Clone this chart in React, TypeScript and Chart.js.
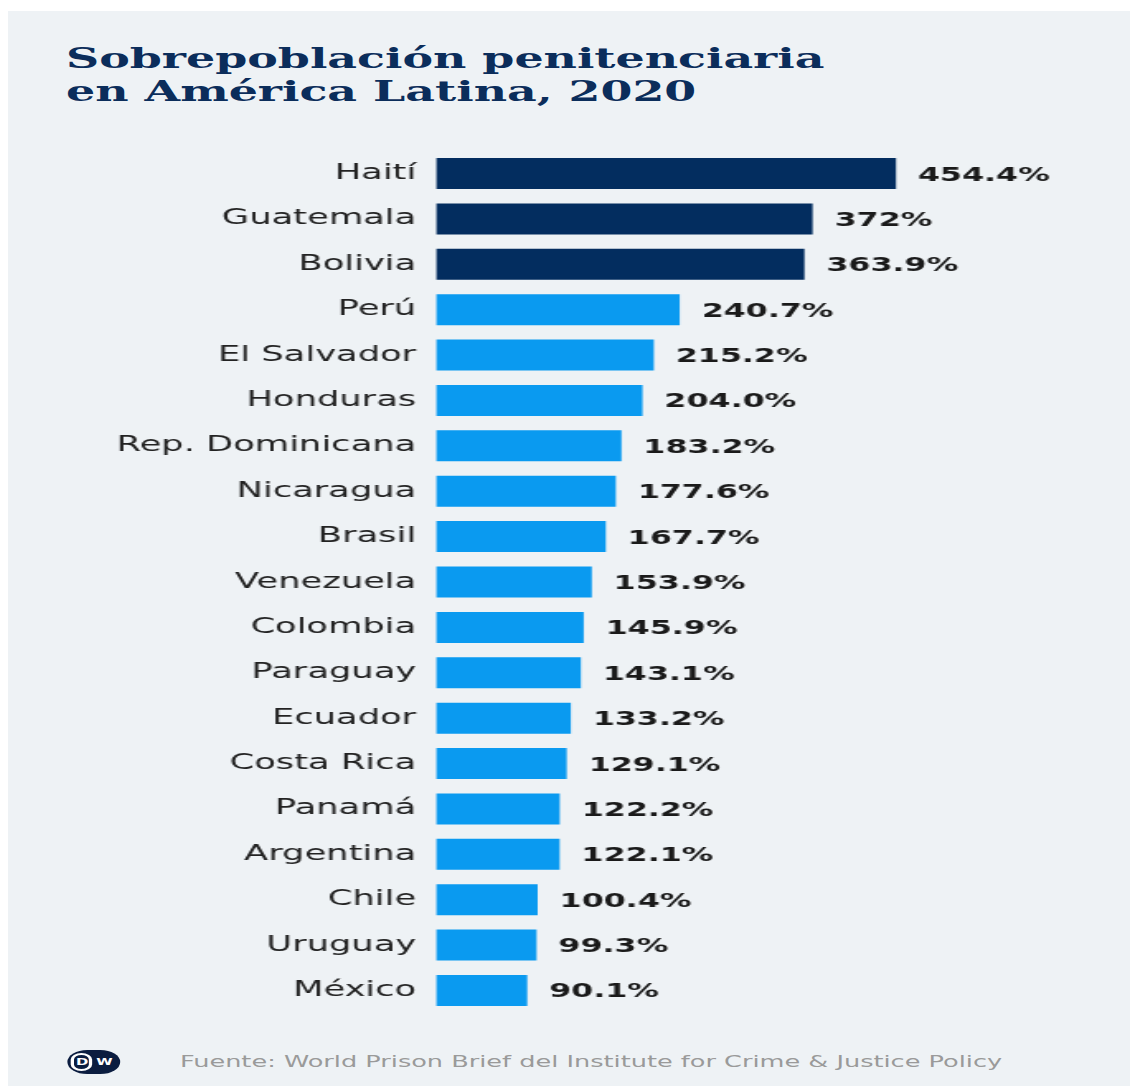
import React, { useEffect, useRef } from "react";
import { Chart, registerables } from "chart.js";

Chart.register(...registerables);

const categories = [
  "Haití", "Guatemala", "Bolivia", "Perú", "El Salvador", "Honduras",
  "Rep. Dominicana", "Nicaragua", "Brasil", "Venezuela", "Colombia",
  "Paraguay", "Ecuador", "Costa Rica", "Panamá", "Argentina", "Chile",
  "Uruguay", "México",
];
const values = [
  454.4, 372, 363.9, 240.7, 215.2, 204.0, 183.2, 177.6, 167.7, 153.9,
  145.9, 143.1, 133.2, 129.1, 122.2, 122.1, 100.4, 99.3, 90.1,
];
const valueLabels = [
  "454.4%", "372%", "363.9%", "240.7%", "215.2%", "204.0%", "183.2%",
  "177.6%", "167.7%", "153.9%", "145.9%", "143.1%", "133.2%", "129.1%",
  "122.2%", "122.1%", "100.4%", "99.3%", "90.1%",
];
const highlightCount = 3;

const titleLines = ["Sobrepoblación penitenciaria", "en América Latina, 2020"];
const sourceText = "Fuente: World Prison Brief del Institute for Crime & Justice Policy";

const NAVY = "#032d5f";
const BLUE = "#0a9af0";
const BG = "#eef2f5";
const SX = 1.65;
const W = 1122 / SX;

const valueLabelPlugin = {
  id: "valueLabels",
  afterDatasetsDraw(chart: any) {
    const ctx = chart.ctx;
    const meta = chart.getDatasetMeta(0);
    ctx.save();
    ctx.font = "bold 19.2px 'DejaVu Sans'";
    ctx.fillStyle = "#1a1a1a";
    ctx.textAlign = "left";
    ctx.textBaseline = "middle";
    meta.data.forEach((bar: any, i: number) => {
      ctx.fillText(valueLabels[i], bar.x + 13.3, bar.y + 2);
    });
    ctx.restore();
  },
};

export default function App() {
  const canvasRef = useRef<HTMLCanvasElement | null>(null);

  useEffect(() => {
    const html = document.documentElement;
    html.style.overflow = "hidden";
    html.style.background =
      `linear-gradient(#ffffff, #ffffff) 0 0 / 100% 11px no-repeat, ` +
      `linear-gradient(#ffffff, #ffffff) 0 0 / 8px 100% no-repeat, ${BG}`;
    const canvas = canvasRef.current;
    if (!canvas) return;
    const chart = new Chart(canvas, {
      type: "bar",
      data: {
        labels: categories,
        datasets: [
          {
            data: values,
            backgroundColor: values.map((_, i) => (i < highlightCount ? NAVY : BLUE)),
            borderWidth: 0,
            barPercentage: 0.683,
            categoryPercentage: 1,
          },
        ],
      },
      options: {
        indexAxis: "y",
        animation: false,
        responsive: false,
        devicePixelRatio: 1,
        layout: { padding: { top: 0, bottom: 0, left: 0, right: 21.8 } },
        plugins: {
          legend: { display: false },
          tooltip: { enabled: false },
          title: { display: false },
        },
        scales: {
          x: {
            display: false,
            min: 0,
            max: 650,
          },
          y: {
            afterFit(scale: any) {
              scale.width = 259.4;
            },
            grid: { display: false, drawTicks: false },
            border: { display: false },
            ticks: {
              padding: 12,
              color: "#222222",
              font: { family: "'DejaVu Sans'", size: 21.4 },
            },
          },
        },
      },
      plugins: [valueLabelPlugin],
    } as any);
    return () => chart.destroy();
  }, []);

  return (
    <div style={{ paddingTop: 3, marginBottom: -8 }}>
      <div
        style={{
          position: "relative",
          width: W + 8,
          height: 1075,
          background: BG,
          transform: `scaleX(${SX})`,
          transformOrigin: "0 0",
          overflow: "hidden",
        }}
      >
        <div
          style={{
            position: "absolute",
            left: 35.2,
            top: 31,
            fontFamily: "'DejaVu Serif'",
            fontWeight: "bold",
            fontSize: 27.8,
            lineHeight: "33px",
            color: "#0b2d5b",
            whiteSpace: "nowrap",
          }}
        >
          {titleLines.map((t) => (
            <div key={t}>{t}</div>
          ))}
        </div>
        <canvas
          ref={canvasRef}
          width={Math.round(W)}
          height={912}
          style={{ position: "absolute", left: 0, top: 114.5 }}
        />
        <div
          style={{
            position: "absolute",
            left: 36.4,
            top: 1039,
            width: 31.5,
            height: 24,
            borderRadius: 12,
            background: "#0b1d40",
            display: "flex",
            alignItems: "center",
            fontFamily: "'DejaVu Sans'",
            fontWeight: "bold",
            fontSize: 9,
            color: "#ffffff",
          }}
        >
          <div
            style={{
              width: 13,
              height: 18,
              marginLeft: 2,
              borderRadius: 9,
              border: "2px solid #ffffff",
              boxSizing: "border-box",
              lineHeight: "14px",
              textAlign: "center",
            }}
          >
            D
          </div>
          <div style={{ width: 14, textAlign: "center", lineHeight: "18px" }}>W</div>
        </div>
        <div
          style={{
            position: "absolute",
            left: 104.2,
            top: 1039,
            lineHeight: "24px",
            fontFamily: "'DejaVu Sans'",
            fontSize: 15.5,
            color: "#9a9a9a",
            whiteSpace: "nowrap",
          }}
        >
          {sourceText}
        </div>
      </div>
    </div>
  );
}
